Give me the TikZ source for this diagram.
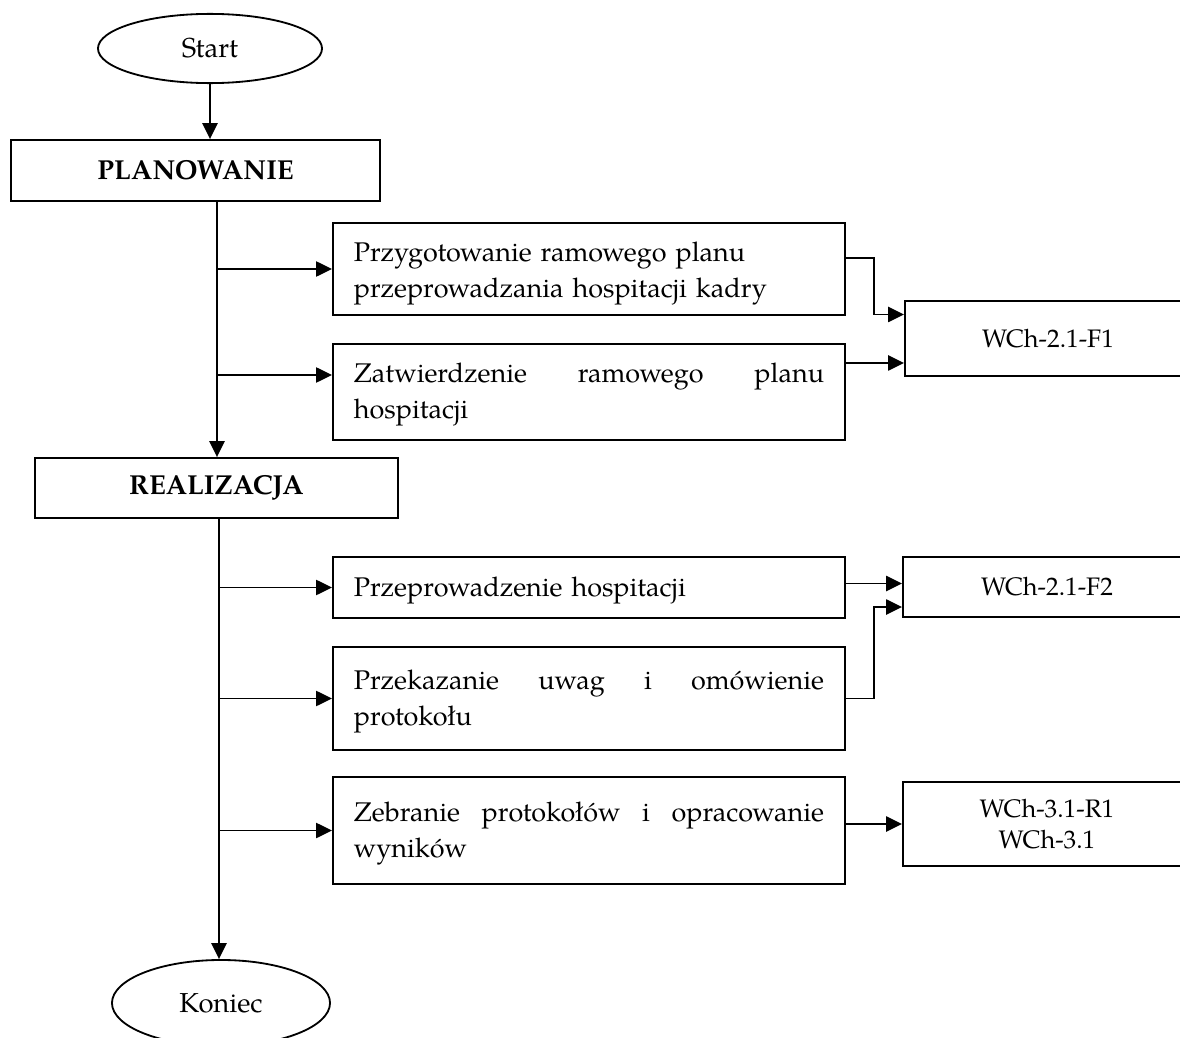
\documentclass[tikz,border=0pt]{standalone}
\usepackage{fontspec}
\setmainfont{TeX Gyre Pagella}
\usetikzlibrary{shapes,arrows.meta,positioning}

\begin{document}
\begin{tikzpicture}[
    x=0.025cm, y=-0.025cm,
    font=\fontsize{19.2pt}{25.6pt}\selectfont,
    terminal/.style={ellipse, draw, line width=1.3pt, inner sep=0pt, minimum width=5.6cm, minimum height=1.73cm, font=\fontsize{19.5pt}{25.6pt}\selectfont},
    phase/.style={rectangle, draw, line width=1.3pt, minimum height=1.525cm, font=\fontsize{19.5pt}{25.6pt}\selectfont\bfseries},
    stepbox/.style={rectangle, draw, line width=1.3pt, text width=11.75cm, inner xsep=0.525cm, inner ysep=0pt, align=left,
        execute at end node={\endgraf\vspace*{-0.15cm}}},
    doc/.style={rectangle, draw, line width=1.3pt, minimum width=7.2cm, align=center, font=\fontsize{18pt}{22.5pt}\selectfont},
    arrow/.style={-{Triangle[length=0.4cm,width=0.38cm]}, line width=1.3pt}
]
\useasboundingbox (0,0) rectangle (1180,1038);

% Main column
\node[terminal] (start) at (210,48.5) {Start};
\node[phase, minimum width=9.225cm] (plan) at (195.5,170.5) {PLANOWANIE};
\node[phase, minimum width=9.075cm, minimum height=1.5cm] (real) at (216.5,488) {REALIZACJA};
\node[terminal, minimum width=5.45cm, minimum height=2.15cm] (koniec) at (221,1003) {Koniec};

% Planning steps
\node[stepbox, minimum height=2.3cm, execute at end node={\vspace*{-0.1cm}}] (b1) at (589,269) {Przygotowanie ramowego planu\\przeprowadzania hospitacji kadry};
\node[stepbox, minimum height=2.4cm] (b2) at (589,392) {Zatwierdzenie\hfill ramowego\hfill planu\\hospitacji};

% Realisation steps
\node[stepbox, minimum height=1.525cm] (b3) at (589,587.5) {Przeprowadzenie hospitacji};
\node[stepbox, minimum height=2.575cm] (b4) at (589,698.5) {Przekazanie\hfill uwag\hfill i\hfill omówienie\\protokołu};
\node[stepbox, minimum height=2.675cm] (b5) at (589,830.5) {Zebranie\hfill protokołów\hfill i\hfill opracowanie\\wyników};

% Documents
\node[doc, minimum width=7.15cm, minimum height=1.875cm] (f1) at (1048,338.5) {WCh-2.1-F1};
\node[doc, minimum height=1.5cm] (f2) at (1047,587) {WCh-2.1-F2};
\node[doc, minimum height=2.1cm] (r1) at (1047,824) {WCh-3.1-R1\\WCh-3.1};

% Trunk lines and joints
\coordinate (t1) at (217,201);
\coordinate (t2) at (219,518);
\coordinate (j1) at (874,0);
\coordinate (b2in) at ([yshift=0.425cm]b2.west);
\coordinate (b1out) at ([yshift=0.275cm]b1.east);
\coordinate (b2out) at ([yshift=0.725cm]b2.east);
\coordinate (b3out) at ([yshift=0.1cm]b3.east);
\coordinate (f1a) at ([yshift=0.6cm]f1.west);
\coordinate (f2b) at ([yshift=-0.5cm]f2.west);

\draw[arrow] (start.south) -- (start.south |- plan.north);
\draw[arrow] (t1) -- (t1 |- real.north);
\draw[arrow] (t2) -- (t2 |- koniec.north);

% Branches to steps
\draw[arrow] (t1 |- b1.west) -- (b1.west);
\draw[arrow] (t1 |- b2in) -- (b2in);
\draw[arrow] (t2 |- b3.west) -- (b3.west);
\draw[arrow] (t2 |- b4.west) -- (b4.west);
\draw[arrow] (t2 |- b5.west) -- (b5.west);

% Steps to documents
\draw[arrow] (b1out) -| (f1a -| j1) -- (f1a);
\draw[arrow] (b2out) -- (b2out -| f1.west);
\draw[arrow] (b3out) -- (b3out -| f2.west);
\draw[arrow] (b4.east) -| (f2b -| j1) -- (f2b);
\draw[arrow] (r1.west -| b5.east) -- (r1.west);

\end{tikzpicture}
\end{document}
